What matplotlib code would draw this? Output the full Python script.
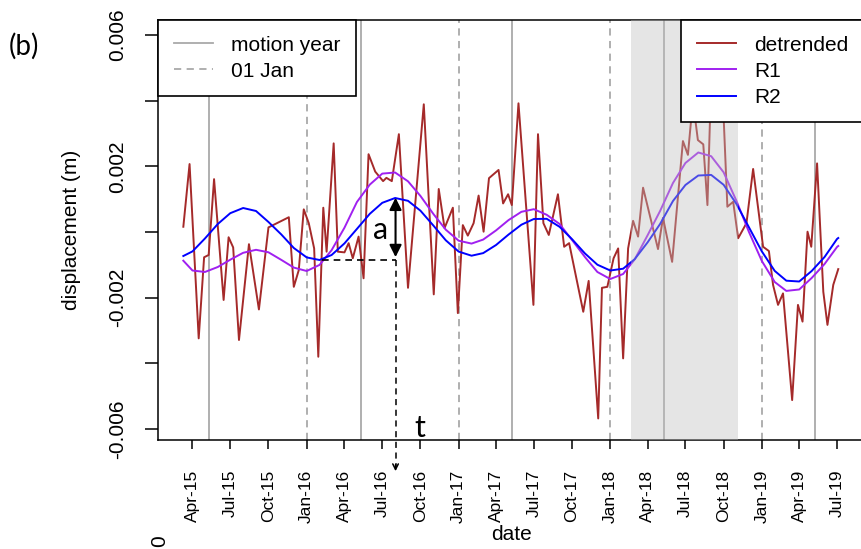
import matplotlib
matplotlib.use('Agg')
import matplotlib.pyplot as plt
from matplotlib.lines import Line2D
import pandas as pd

plt.rcParams['font.family'] = ['Liberation Sans', 'DejaVu Sans']

# detrended displacement (m)
det_dates = ['2015-03-10', '2015-03-25', '2015-04-16', '2015-04-29', '2015-05-10', '2015-05-23',
             '2015-06-15', '2015-06-27', '2015-07-08', '2015-07-22', '2015-08-15', '2015-09-08',
             '2015-10-01', '2015-11-19', '2015-12-01', '2015-12-13', '2015-12-25', '2016-01-06',
             '2016-01-19', '2016-01-29', '2016-02-10', '2016-02-18', '2016-03-06', '2016-03-16',
             '2016-04-01', '2016-04-11', '2016-04-21', '2016-05-05', '2016-05-17', '2016-05-29',
             '2016-06-14', '2016-07-03', '2016-07-11', '2016-07-24', '2016-08-10', '2016-09-01',
             '2016-10-09', '2016-11-02', '2016-11-14', '2016-11-28', '2016-12-18', '2016-12-30',
             '2017-01-11', '2017-01-23', '2017-02-06', '2017-02-18', '2017-03-02', '2017-03-15',
             '2017-04-07', '2017-04-18', '2017-04-30', '2017-05-09', '2017-05-25', '2017-06-30',
             '2017-07-11', '2017-07-24', '2017-08-06', '2017-08-28', '2017-09-12', '2017-09-24',
             '2017-10-28', '2017-11-10', '2017-12-03', '2017-12-12', '2017-12-25', '2018-01-09',
             '2018-01-20', '2018-02-01', '2018-02-13', '2018-02-25', '2018-03-09', '2018-03-21',
             '2018-04-26', '2018-05-08', '2018-05-30', '2018-06-25', '2018-07-07', '2018-07-19',
             '2018-07-31', '2018-08-13', '2018-08-23', '2018-08-31', '2018-09-30', '2018-10-10',
             '2018-10-24', '2018-11-05', '2018-11-25', '2018-12-11', '2019-01-04', '2019-01-18',
             '2019-01-28', '2019-02-09', '2019-02-21', '2019-03-15', '2019-03-29', '2019-04-09',
             '2019-04-21', '2019-04-30', '2019-05-14', '2019-05-29', '2019-06-08', '2019-06-22',
             '2019-07-04']
det_vals = [0.00016, 0.00207, -0.00324, -0.00077, -0.00070, 0.00161,
            -0.00207, -0.00016, -0.00047, -0.00329, -0.00037, -0.00236,
            0.00014, 0.00045, -0.00167, -0.00116, 0.00069, 0.00027,
            -0.00050, -0.00380, 0.00074, -0.00060, 0.00270, -0.00060,
            -0.00062, -0.00034, -0.00080, -0.00014, -0.00141, 0.00237,
            0.00184, 0.00155, 0.00165, 0.00155, 0.00298, -0.00170,
            0.00389, -0.00190, 0.00131, 0.00012, 0.00074, -0.00247,
            0.00021, -0.00011, 0.00027, 0.00111, 0.00001, 0.00164,
            0.00189, 0.00087, 0.00115, 0.00082, 0.00392, -0.00222,
            0.00298, 0.00027, -0.00009, 0.00115, -0.00045, -0.00034,
            -0.00243, -0.00149, -0.00568, -0.00170, -0.00167, -0.00080,
            -0.00050, -0.00385, -0.00050, 0.00034, -0.00014, 0.00135,
            -0.00052, 0.00043, -0.00091, 0.00277, 0.00235, 0.00400,
            0.00280, 0.00267, 0.00082, 0.00420, 0.00380, 0.00077,
            0.00092, -0.00019, 0.00027, 0.00192, -0.00045, -0.00058,
            -0.00161, -0.00222, -0.00187, -0.00512, -0.00222, -0.00273,
            0.00001, -0.00045, 0.00209, -0.00182, -0.00283, -0.00161,
            -0.00113]

# fitted curves, read monthly
fit_dates = ['2015-03-10', '2015-04-01', '2015-05-01', '2015-06-01', '2015-07-01', '2015-08-01',
             '2015-09-01', '2015-10-01', '2015-11-01', '2015-12-01', '2016-01-01', '2016-02-01',
             '2016-03-01', '2016-04-01', '2016-05-01', '2016-06-01', '2016-07-01', '2016-08-01',
             '2016-09-01', '2016-10-01', '2016-11-01', '2016-12-01', '2017-01-01', '2017-02-01',
             '2017-03-01', '2017-04-01', '2017-05-01', '2017-06-01', '2017-07-01', '2017-08-01',
             '2017-09-01', '2017-10-01', '2017-11-01', '2017-12-01', '2018-01-01', '2018-02-01',
             '2018-03-01', '2018-04-01', '2018-05-01', '2018-06-01', '2018-07-01', '2018-08-01',
             '2018-09-01', '2018-10-01', '2018-11-01', '2018-12-01', '2019-01-01', '2019-02-01',
             '2019-03-01', '2019-04-01', '2019-05-01', '2019-06-01', '2019-07-01', '2019-07-04']
r1_vals = [-0.000874, -0.001173, -0.001218, -0.001066, -0.000844, -0.000634,
           -0.000542, -0.000618, -0.000850, -0.001084, -0.001188, -0.001002,
           -0.000554, 0.000131, 0.000914, 0.001444, 0.001779, 0.001812,
           0.001544, 0.001097, 0.000551, 0.000070, -0.000265, -0.000353,
           -0.000231, 0.000049, 0.000362, 0.000615, 0.000695, 0.000524,
           0.000244, -0.000244, -0.000762, -0.001218, -0.001432, -0.001279,
           -0.000832, -0.000097, 0.000640, 0.001493, 0.002102, 0.002422,
           0.002309, 0.001818, 0.000944, 0.000000, -0.000883, -0.001523,
           -0.001794, -0.001751, -0.001401, -0.000975, -0.000457, -0.000426]
r2_vals = [-0.000731, -0.000591, -0.000198, 0.000244, 0.000573, 0.000731,
           0.000640, 0.000305, -0.000076, -0.000487, -0.000774, -0.000853,
           -0.000701, -0.000347, 0.000094, 0.000554, 0.000889, 0.001036,
           0.000950, 0.000649, 0.000198, -0.000253, -0.000597, -0.000722,
           -0.000643, -0.000396, -0.000079, 0.000222, 0.000396, 0.000402,
           0.000158, -0.000219, -0.000652, -0.000996, -0.001173, -0.001118,
           -0.000825, -0.000314, 0.000244, 0.000944, 0.001432, 0.001721,
           0.001739, 0.001438, 0.000850, 0.000143, -0.000591, -0.001185,
           -0.001483, -0.001508, -0.001188, -0.000762, -0.000213, -0.000183]

motion_year = ['2015-05-10', '2016-05-10', '2017-05-10', '2018-05-10', '2019-05-10']
jan_first = ['2015-01-01', '2016-01-01', '2017-01-01', '2018-01-01', '2019-01-01']
shade_start, shade_end = '2018-02-19', '2018-11-04'

det_x = pd.to_datetime(det_dates)
fit_x = pd.to_datetime(fit_dates)
xticks = pd.date_range('2015-04-01', '2019-07-01', freq='3MS')

fig = plt.figure(figsize=(8.61, 5.49), dpi=100)
ax = fig.add_axes([158/861, 109/549, 706/861, 420/549])

gray = '#a9a9a9'
for d in motion_year:
    ax.axvline(pd.Timestamp(d), color=gray, lw=1.3, zorder=1)
for d in jan_first:
    ax.axvline(pd.Timestamp(d), color=gray, lw=1.3, ls=(0, (4, 3)), zorder=1)

l_det, = ax.plot(det_x, det_vals, color='#a52a2a', lw=1.4, zorder=2)
l_r1, = ax.plot(fit_x, r1_vals, color='#a020f0', lw=1.4, zorder=2)
l_r2, = ax.plot(fit_x, r2_vals, color='#0000ff', lw=1.4, zorder=2)

ax.axvspan(pd.Timestamp(shade_start), pd.Timestamp(shade_end), color='#bebebe', alpha=0.4, lw=0, zorder=3)

# amplitude / timing annotation
ax_x = pd.Timestamp('2016-08-02')
ax.plot([pd.Timestamp('2016-02-06'), ax_x], [-0.00085, -0.00085], color='black', lw=1.2, ls=(0, (4, 3)), zorder=4)
ax.annotate('', xy=(ax_x, 0.00113), xytext=(ax_x, -0.00085),
            arrowprops=dict(arrowstyle='<|-|>', color='black', lw=1.5, mutation_scale=18), zorder=4)
ax.plot([ax_x, ax_x], [-0.00085, -0.0072], color='black', lw=1.1, ls=(0, (4, 3)), clip_on=False, zorder=4)
ax.annotate('', xy=(ax_x, -0.00737), xytext=(ax_x, -0.0070), annotation_clip=False,
            arrowprops=dict(arrowstyle='->', color='black', lw=1.1, mutation_scale=10))
ax.text(pd.Timestamp('2016-06-28'), -0.00022, 'a', fontsize=22, family='Lato', ha='center', va='baseline', zorder=4)
ax.text(pd.Timestamp('2016-09-30'), -0.00623, 't', fontsize=22, family='Lato', ha='center', va='baseline', zorder=4)

ax.set_xlim(pd.Timestamp('2015-01-08'), pd.Timestamp('2019-09-04'))
ax.set_ylim(-0.006336, 0.006458)

ax.set_xticks(xticks)
ax.set_xticklabels([d.strftime('%b-%y') for d in xticks], rotation=90)
yt = [-0.006, -0.004, -0.002, 0.0, 0.002, 0.004, 0.006]
ax.set_yticks(yt)
ax.set_yticklabels(['-0.006', '', '-0.002', '', '0.002', '', '0.006'], rotation=90, va='center')
ax.tick_params(axis='y', length=9.4, width=1.1, pad=13, labelsize=15)
ax.tick_params(axis='x', length=6.5, width=1.1, pad=15, labelsize=12.5)
for s in ax.spines.values():
    s.set_linewidth(1.1)

ax.set_ylabel('displacement (m)', fontsize=15)
ax.yaxis.set_label_coords(-0.109, 0.5)
ax.set_xlabel('date', fontsize=15)
ax.xaxis.set_label_coords(0.5, -0.203)

leg_kw = dict(fancybox=False, edgecolor='black', framealpha=1, fontsize=15, handlelength=1.9,
              handletextpad=0.85, borderpad=0.75, labelspacing=0.34, borderaxespad=0)
h1 = Line2D([], [], color=gray, lw=1.3)
h2 = Line2D([], [], color=gray, lw=1.3, ls=(0, (4, 3)))
leg1 = ax.legend([h1, h2], ['motion year', '01 Jan'], loc='upper left', bbox_to_anchor=(0, 1), **leg_kw)
leg1.get_frame().set_linewidth(1.2)
leg1.set_zorder(5)
ax.add_artist(leg1)
leg2 = ax.legend([l_det, l_r1, l_r2], ['detrended', 'R1', 'R2'], loc='upper right', bbox_to_anchor=(1, 1), **leg_kw)
leg2.get_frame().set_linewidth(1.2)
leg2.set_zorder(5)

fig.text(9/861, 1 - 46/549, '(b)', fontsize=20, family='Lato', va='center')
fig.text(160/861, 1 - 541/549, '0', fontsize=15, rotation=90, ha='center', va='center')

fig.savefig('out.png', dpi=100)
